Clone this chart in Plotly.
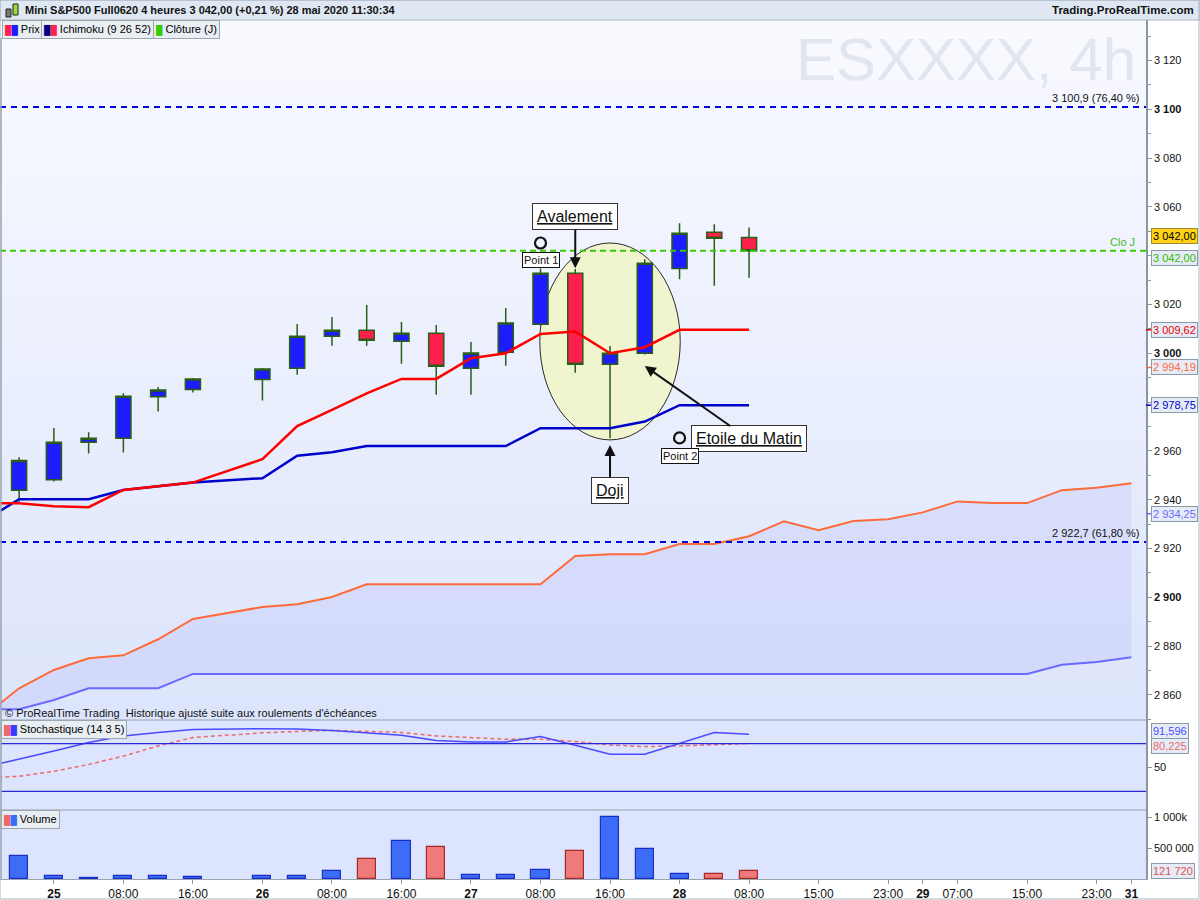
import plotly.graph_objects as go

# ---- data (x = 4h bar index, 0 = 24 May 20:00) ----
bar_x = [0, 1, 2, 3, 4, 5, 7, 8, 9, 10, 11, 12, 13, 14, 15, 16, 17, 18, 19, 20, 21]
opens = [2943.9, 2948.2, 2963.5, 2965.2, 2982.2, 2985.2, 2989.3, 2993.9, 3007.0, 3009.4, 3004.9,
         3008.2, 2993.9, 3000.4, 3011.9, 3032.8, 2995.5, 3000.0, 3034.8, 3049.6, 3047.5]
highs = [2957.4, 2969.4, 2967.6, 2983.6, 2986.2, 2989.9, 2994.0, 3012.0, 3014.9, 3019.8, 3012.8,
         3011.6, 3004.6, 3018.6, 3034.8, 3034.5, 3003.0, 3038.5, 3053.3, 3052.9, 3051.6]
lows = [2939.2, 2947.4, 2958.9, 2959.3, 2976.1, 2983.9, 2980.6, 2991.2, 3003.1, 3003.1, 2995.7,
        2983.0, 2983.0, 2994.9, 3011.4, 2992.0, 2965.2, 2999.5, 3030.3, 3027.7, 3031.0]
closes = [2956.1, 2963.5, 2965.2, 2982.4, 2985.0, 2989.5, 2993.6, 3007.0, 3009.4, 3005.3, 3008.2,
          2994.7, 3000.1, 3012.4, 3032.8, 2995.5, 3000.0, 3036.9, 3049.2, 3047.1, 3042.0]
volume = [371000, 48000, 16000, 48000, 48000, 32000, 48000, 48000, 129000, 323000, 613000,
          516000, 65000, 65000, 145000, 452000, 995000, 484000, 81000, 81000, 121720]

line_x = [-1, 0, 1, 2, 3, 4, 5, 7, 8, 9, 10, 11, 12, 13, 14, 15, 16, 17, 18, 19, 20, 21]
tenkan = [2938.5, 2938.5, 2937.3, 2936.9, 2944.0, 2945.5, 2947.0, 2956.6, 2970.2, 2976.8, 2983.6,
          2989.5, 2989.5, 2998.0, 3000.0, 3007.9, 3008.9, 3000.0, 3002.5, 3009.62, 3009.62, 3009.62]
kijun = [2931.4, 2940.2, 2940.2, 2940.2, 2944.0, 2945.5, 2947.0, 2948.8, 2958.0, 2959.4, 2962.0,
         2962.0, 2962.0, 2962.0, 2962.0, 2969.3, 2969.3, 2969.3, 2972.0, 2978.75, 2978.75, 2978.75]

cloud_x = [-1, 0, 1, 2, 3, 4, 5] + list(range(7, 33))
span_a = [2851.4, 2862.7, 2870.2, 2875.0, 2876.2, 2882.8, 2891.1, 2896.0, 2897.1, 2900.1,
          2905.3, 2905.3, 2905.3, 2905.3, 2905.3, 2905.3, 2916.9, 2917.6, 2917.6, 2921.8,
          2921.8, 2925.0, 2931.1, 2927.5, 2931.3, 2932.0, 2934.8, 2939.3, 2938.6, 2938.6,
          2943.9, 2944.9, 2946.7]
span_b = [2854.1, 2854.1, 2857.9, 2862.7, 2862.7, 2862.7, 2868.6] + [2868.6] * 23 + [2872.3, 2873.5, 2875.4]

stoch_k = [50.4, 60.1, 70.6, 81.3, 89.6, 93.9, 97.7, 98.5, 98.1, 96.5, 93.9, 90.5, 83.8, 82.0,
           82.0, 88.9, 78.0, 66.5, 66.5, 80.4, 93.9, 91.6]
stoch_d = [37.0, 39.0, 45.3, 53.8, 64.3, 77.0, 87.6, 93.4, 95.2, 96.5, 95.2, 93.9, 89.6, 87.6,
           85.4, 85.4, 82.5, 78.2, 76.2, 77.0, 78.2, 80.2]

fib_levels = [3100.9, 2922.7]
fib_labels = ["3 100,9 (76,40 %)", "2 922,7 (61,80 %)"]
clo_j = 3042.0

price_ticks = list(range(2860, 3121, 20))
hidden_ticks = [3040, 2980]   # labels covered by the value tags in the original


def price_label(v):
    if v in hidden_ticks:
        return ""
    s = "%d %03d" % (v // 1000, v % 1000)
    return "<b>%s</b>" % s if v % 100 == 0 else s


price_ticktext = [price_label(v) for v in price_ticks]
time_ticks = [1, 3, 5, 7, 9, 11, 13, 15, 17, 19, 21, 23, 25, 26, 27, 29, 31, 32]
time_labels = ["<b>25</b>", "08:00", "16:00", "<b>26</b>", "08:00", "16:00", "<b>27</b>", "08:00",
               "16:00", "<b>28</b>", "08:00", "15:00", "23:00", "<b>29</b>", "07:00", "15:00",
               "23:00", "<b>31</b>"]

point_x = [15, 19]
point_y = [3045.2, 2965.3]

# ---- layout geometry ----
W, H = 1200, 900
ML, MR, MT, MB = 0, 54, 20, 21
PW = W - ML - MR
PH = H - MT - MB
FONT = "Liberation Sans, Arial, sans-serif"


def fx(px):
    return (px - ML) / PW


def fy(py):
    return (H - MB - py) / PH


XR = [-0.55, 32.42]

fig = go.Figure()

# ichimoku cloud
fig.add_trace(go.Scatter(x=cloud_x, y=span_b, mode="lines", line=dict(color="#6b6bff", width=2),
                         xaxis="x", yaxis="y", showlegend=False, hoverinfo="skip"))
fig.add_trace(go.Scatter(x=cloud_x, y=span_a, mode="lines", line=dict(color="#ff6a3a", width=2),
                         fill="tonexty", fillcolor="rgba(185,190,250,0.30)",
                         xaxis="x", yaxis="y", showlegend=False, hoverinfo="skip"))
fig.add_trace(go.Scatter(x=line_x, y=kijun, mode="lines", line=dict(color="#0000cc", width=2.5),
                         xaxis="x", yaxis="y", showlegend=False))
fig.add_trace(go.Scatter(x=line_x, y=tenkan, mode="lines", line=dict(color="#ff0000", width=2.5),
                         xaxis="x", yaxis="y", showlegend=False))

fig.add_trace(go.Candlestick(
    x=bar_x, open=opens, high=highs, low=lows, close=closes,
    increasing=dict(line=dict(color="#2b5c18", width=1.5), fillcolor="#1c1cff"),
    decreasing=dict(line=dict(color="#2b5c18", width=1.5), fillcolor="#ff1f4f"),
    whiskerwidth=0, xaxis="x", yaxis="y", showlegend=False))

fig.add_trace(go.Scatter(x=point_x, y=point_y, mode="markers",
                         marker=dict(symbol="circle-open", size=11, color="#111111", line=dict(width=2.2)),
                         xaxis="x", yaxis="y", showlegend=False, hoverinfo="skip"))

# stochastic
fig.add_trace(go.Scatter(x=line_x, y=stoch_d, mode="lines",
                         line=dict(color="#ec6a6a", width=1.5, dash="4px,3px"),
                         xaxis="x2", yaxis="y2", showlegend=False))
fig.add_trace(go.Scatter(x=line_x, y=stoch_k, mode="lines", line=dict(color="#4a4aff", width=1.5),
                         xaxis="x2", yaxis="y2", showlegend=False))

# volume
up = [c >= o for o, c in zip(opens, closes)]
fig.add_trace(go.Bar(x=bar_x, y=volume, width=0.52,
                     marker=dict(color=["#3d6cf6" if u else "#ef7a7a" for u in up],
                                 line=dict(color=["#1a2fc8" if u else "#a82828" for u in up], width=1.2)),
                     xaxis="x3", yaxis="y3", showlegend=False))

shapes = []
# background gradient of the price pane
N = 35
top, bot = (249, 250, 255), (221, 229, 252)
for i in range(N):
    t = i / (N - 1)
    col = "rgb(%d,%d,%d)" % tuple(round(a + (b - a) * t) for a, b in zip(top, bot))
    y0 = 20 + i * 700 / N
    shapes.append(dict(type="rect", xref="paper", yref="paper", x0=0, x1=1, y0=fy(y0 + 700 / N + 0.5),
                       y1=fy(y0), fillcolor=col, line=dict(width=0), layer="below"))
# ellipse around the pattern
shapes.append(dict(type="circle", xref="x", yref="y", x0=14.98, x1=19.02, y0=2964.5, y1=3045.2,
                   fillcolor="#f0f4cf", line=dict(color="#2a2a2a", width=1), layer="below"))
# fibonacci levels
for lv in fib_levels:
    shapes.append(dict(type="line", xref="paper", yref="y", x0=0, x1=1, y0=lv, y1=lv,
                       line=dict(color="#0000e0", width=2, dash="6px,5px")))
shapes.append(dict(type="line", xref="paper", yref="y", x0=0, x1=1, y0=clo_j, y1=clo_j,
                   line=dict(color="#33cc00", width=2, dash="6px,4px")))
# stochastic levels
for lv in [80, 20]:
    shapes.append(dict(type="line", xref="paper", yref="y2", x0=0, x1=1, y0=lv, y1=lv,
                       line=dict(color="#2a2ad8", width=1.2)))
# pane separators
for py in [720, 810]:
    shapes.append(dict(type="line", xref="paper", yref="paper", x0=0, x1=1, y0=fy(py), y1=fy(py),
                       line=dict(color="#9aa4ae", width=1.2)))
shapes.append(dict(type="line", xref="paper", yref="paper", x0=fx(1), x1=fx(1), y0=0, y1=fy(38),
                   line=dict(color="#9aa4ae", width=1.5)))
# header bar
shapes.append(dict(type="rect", xref="paper", yref="paper", x0=0, x1=fx(W), y0=1, y1=fy(0),
                   fillcolor="#dfe8f2", line=dict(color="#a9b6c2", width=1)))
shapes.append(dict(type="rect", xref="paper", yref="paper", x0=fx(6), x1=fx(11), y0=fy(17), y1=fy(9),
                   fillcolor="#777777", line=dict(color="#222222", width=1)))
shapes.append(dict(type="rect", xref="paper", yref="paper", x0=fx(13), x1=fx(18), y0=fy(15), y1=fy(4),
                   fillcolor="#99dd33", line=dict(color="#222222", width=1)))
shapes.append(dict(type="rect", xref="paper", yref="paper", x0=0, x1=fx(W - 1), y0=fy(H - 1), y1=fy(0),
                   fillcolor="rgba(0,0,0,0)", line=dict(color="#a9b6c2", width=1)))
# small coloured ticks next to the value tags
for val, colr in [(3009.62, "#ee0000"), (2994.19, "#ff6a3a"), (2978.75, "#0000cc"), (2934.25, "#6b6bff")]:
    shapes.append(dict(type="line", xref="paper", yref="y", x0=1, x1=fx(1151), y0=val, y1=val,
                       line=dict(color=colr, width=1.5)))

ann = []


def box(text, x, y, xref="paper", yref="paper", size=11, color="#000000", bg="#e8eef2",
        border="#9aa6b0", xanchor="left", yshift=0, pad=2):
    ann.append(dict(text=text, x=x, y=y, xref=xref, yref=yref, showarrow=False, xanchor=xanchor,
                    yanchor="middle", yshift=yshift, font=dict(family=FONT, size=size, color=color),
                    bgcolor=bg, bordercolor=border, borderwidth=1, borderpad=pad))


def icon(*cols):
    return "".join("<span style='font-size:9px;color:%s'>█</span>" % c for c in cols)


# header texts
ann.append(dict(text="<b>Mini S&P500 Full0620 4 heures 3 042,00 (+0,21 %) 28 mai 2020 11:30:34</b>",
                x=fx(23), y=fy(10), xref="paper", yref="paper", showarrow=False, xanchor="left",
                yanchor="middle", font=dict(family=FONT, size=11, color="#111111")))
ann.append(dict(text="<b>Trading.ProRealTime.com</b>", x=fx(1196), y=fy(10), xref="paper", yref="paper",
                showarrow=False, xanchor="right", yanchor="middle",
                font=dict(family=FONT, size=11.5, color="#111111")))
# legend tabs
box(icon("#ff1f4f", "#1c1cff") + " Prix", fx(2), fy(29), size=11)
box(icon("#00008b", "#ff1f4f") + " Ichimoku (9 26 52)", fx(41), fy(29), size=11)
box(icon("#33cc00") + " Clôture (J)", fx(153), fy(29), size=11)
box(icon("#ec6a6a", "#3a3aff") + " Stochastique (14 3 5)", fx(1), fy(729), size=11)
box(icon("#ec6a6a", "#3a6cf6") + " Volume", fx(1), fy(819), size=11)

# watermark
ann.append(dict(text="ESXXXX, 4h", x=fx(1138), y=fy(59), xref="paper", yref="paper", showarrow=False,
                xanchor="right", yanchor="middle", font=dict(family=FONT, size=60, color="#e3e5ee")))
# copyright
ann.append(dict(text="© ProRealTime Trading  Historique ajusté suite aux roulements d'échéances",
                x=fx(3), y=fy(713), xref="paper", yref="paper", showarrow=False, xanchor="left",
                yanchor="middle", font=dict(family=FONT, size=11, color="#111111")))

# level labels
for lv, txt in zip(fib_levels, fib_labels):
    ann.append(dict(text=txt, x=fx(1141), y=lv, xref="paper", yref="y", showarrow=False,
                    xanchor="right", yanchor="bottom", yshift=1,
                    font=dict(family=FONT, size=11, color="#111111")))
ann.append(dict(text="Clo J", x=fx(1137), y=clo_j, xref="paper", yref="y", showarrow=False,
                xanchor="right", yanchor="bottom", yshift=1, font=dict(family=FONT, size=11, color="#44bb22")))

# pattern annotations
for txt, x, y, axv, ayv in [("<u>Avalement</u>", 16, 3034.9, 0, -52),
                            ("<u>Doji</u>", 17, 2962.4, 0, 45),
                            ("<u>Etoile du Matin</u>", 18, 2994.8, 104, 73)]:
    ann.append(dict(text=txt, x=x, y=y, xref="x", yref="y", ax=axv, ay=ayv, showarrow=True,
                    arrowhead=2, arrowsize=1.1, arrowwidth=2, arrowcolor="#111111", standoff=0,
                    font=dict(family=FONT, size=16, color="#111111"), bgcolor="#ffffff",
                    bordercolor="#333333", borderwidth=1, borderpad=4))
for txt, x, y in [("Point 1", 15, 3038.2), ("Point 2", 19, 2957.9)]:
    ann.append(dict(text=txt, x=x, y=y, xref="x", yref="y", showarrow=False,
                    font=dict(family=FONT, size=11, color="#111111"), bgcolor="#ffffff",
                    bordercolor="#111111", borderwidth=1, borderpad=1))

# value tags on the right axis
RX = 1 + 5 / PW
box("3 042,00", RX, 3042.0, yref="y", bg="#ffd21a", border="#a08a30", yshift=15, pad=1)
box("3 042,00", RX, 3042.0, yref="y", color="#33bb00", bg="#e6ecf7", border="#8c9aa8", yshift=-7, pad=1)
box("3 009,62", RX, 3009.62, yref="y", color="#ee0000", bg="#e6ecf7", border="#8c9aa8", pad=1)
box("2 994,19", RX, 2994.19, yref="y", color="#ff6a3a", bg="#e6ecf7", border="#8c9aa8", pad=1)
box("2 978,75", RX, 2978.75, yref="y", color="#0000cc", bg="#e6ecf7", border="#8c9aa8", pad=1)
box("2 934,25", RX, 2934.25, yref="y", color="#6b6bff", bg="#e6ecf7", border="#8c9aa8", pad=1)
box("91,596", RX, 91.596, yref="y2", color="#4a4aff", bg="#e6ecf7", border="#8c9aa8", yshift=3, pad=1)
box("80,225", RX, 80.225, yref="y2", color="#ec6a6a", bg="#e6ecf7", border="#8c9aa8", yshift=-3, pad=1)
box("121 720", RX, 121720, yref="y3", color="#e05050", bg="#e6ecf7", border="#8c9aa8", pad=1)

axis_common = dict(showgrid=False, zeroline=False, showline=True, linecolor="#8c96a0", linewidth=1.5,
                   ticks="outside", tickcolor="#8c96a0", ticklen=4, side="right",
                   tickfont=dict(family=FONT, size=11, color="#111111"), fixedrange=True)
x_common = dict(range=XR, showgrid=False, zeroline=False, fixedrange=True, domain=[0, 1])

fig.update_layout(
    width=W, height=H, margin=dict(l=ML, r=MR, t=MT, b=MB, autoexpand=False),
    paper_bgcolor="#ffffff", plot_bgcolor="#dce5fd", boxgap=0.38, bargap=0,
    font=dict(family=FONT, size=12, color="#111111"),
    xaxis=dict(x_common, anchor="y", showticklabels=False, rangeslider=dict(visible=False)),
    xaxis2=dict(x_common, anchor="y2", showticklabels=False, matches="x"),
    xaxis3=dict(x_common, anchor="y3", matches="x", tickvals=time_ticks, ticktext=time_labels,
                ticks="outside", ticklen=4, tickcolor="#8c96a0", showline=True, linecolor="#9aa4ae",
                tickfont=dict(family=FONT, size=12, color="#111111")),
    yaxis=dict(axis_common, anchor="x", domain=[fy(720), 1], range=[2849.7, 3136.6],
               tickvals=price_ticks, ticktext=price_ticktext,
               minor=dict(dtick=10, tick0=0, ticklen=3, ticks="outside", tickcolor="#8c96a0")),
    yaxis2=dict(axis_common, anchor="x2", domain=[fy(810), fy(720)], range=[-3.2, 109.5],
                tickvals=[50], ticktext=["50"]),
    yaxis3=dict(axis_common, anchor="x3", domain=[0, fy(810)], range=[0, 1113000],
                tickvals=[500000, 1000000], ticktext=["500 000", "1 000k"]),
    shapes=shapes, annotations=ann, showlegend=False,
)

# the page body has a default 8px margin; drop it so the figure sits at the window corner
fig.write_html("out.html", config={"displayModeBar": False},
               post_script="document.body.style.margin='0px';")
